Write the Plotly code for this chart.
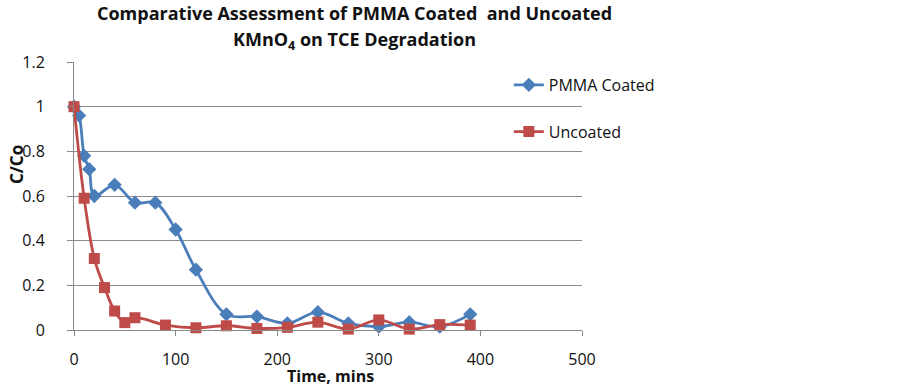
import plotly.graph_objects as go

# Data
coated_time = [0, 5, 10, 15, 20, 40, 60, 80, 100, 120, 150, 180, 210, 240, 270, 300, 330, 360, 390]
coated_ratio = [1.0, 0.96, 0.78, 0.72, 0.60, 0.65, 0.57, 0.57, 0.45, 0.27, 0.07, 0.06, 0.03, 0.08, 0.03, 0.015, 0.035, 0.015, 0.07]

uncoated_time = [0, 10, 20, 30, 40, 50, 60, 90, 120, 150, 180, 210, 240, 270, 300, 330, 360, 390]
uncoated_ratio = [1.0, 0.59, 0.32, 0.19, 0.085, 0.033, 0.055, 0.022, 0.01, 0.019, 0.007, 0.012, 0.035, 0.004, 0.045, 0.004, 0.024, 0.022]

x_ticks = [0, 100, 200, 300, 400, 500]
y_ticks = [0, 0.2, 0.4, 0.6, 0.8, 1, 1.2]
y_tick_labels = ["0", "0.2", "0.4", "0.6", "0.8", "1", "1.2"]

BLUE = "#4A7EBB"
RED = "#BE4B48"
FONT = "Open Sans"
TXT = "#111111"

fig = go.Figure()
fig.add_trace(go.Scatter(
    x=coated_time, y=coated_ratio, name="PMMA Coated", mode="lines+markers",
    line=dict(color=BLUE, width=2.8, shape="spline", smoothing=1.0),
    marker=dict(symbol="diamond", size=11, color=BLUE),
    cliponaxis=False, legendgroup="a",
))
fig.add_trace(go.Scatter(
    x=uncoated_time, y=uncoated_ratio, name="Uncoated", mode="lines+markers",
    line=dict(color=RED, width=2.8, shape="spline", smoothing=1.0),
    marker=dict(symbol="square", size=11, color=RED),
    cliponaxis=False, legendgroup="b",
))

fig.update_layout(
    width=899, height=387,
    margin=dict(l=74, r=317, t=62, b=57, autoexpand=False),
    paper_bgcolor="white", plot_bgcolor="white",
    font=dict(family=FONT, size=16, color=TXT),
    showlegend=True,
    legend=dict(
        x=0.856, xanchor="left", y=0.978, yanchor="top",
        font=dict(family=FONT, size=16, color=TXT),
        tracegroupgap=23, traceorder="grouped",
        bgcolor="rgba(0,0,0,0)",
    ),
    xaxis=dict(
        range=[0, 500], tickvals=x_ticks, ticks="outside", ticklen=5,
        tickcolor="#888", showline=True, linecolor="#888", linewidth=1,
        showgrid=False, zeroline=False, automargin=False,
        ticklabelstandoff=10,
        tickfont=dict(family=FONT, size=16, color=TXT),
    ),
    yaxis=dict(
        range=[0, 1.2], tickvals=y_ticks, ticktext=y_tick_labels,
        ticks="outside", ticklen=6, tickcolor="#888",
        showline=True, linecolor="#888", linewidth=1, automargin=False,
        showgrid=True, gridcolor="#8c8c8c", gridwidth=1, zeroline=False,
        ticklabelstandoff=19,
        tickfont=dict(family=FONT, size=16, color=TXT),
    ),
)

# Two-line chart title
fig.add_annotation(
    text="<b>Comparative Assessment of PMMA Coated  and Uncoated</b>",
    xref="paper", yref="paper", x=0.553, y=1.183, xanchor="center", yanchor="middle",
    showarrow=False, font=dict(family=FONT, size=18, color=TXT),
)
fig.add_annotation(
    text="<b>KMnO<sub>4</sub> on TCE Degradation</b>",
    xref="paper", yref="paper", x=0.553, y=1.08, xanchor="center", yanchor="middle",
    showarrow=False, font=dict(family=FONT, size=18, color=TXT),
)
# Axis titles
fig.add_annotation(
    text="<b>Time, mins</b>", xref="paper", yref="paper",
    x=0.505, y=-0.172, xanchor="center", yanchor="middle", showarrow=False,
    font=dict(family=FONT, size=16, color=TXT),
)
fig.add_annotation(
    text="<b>C/Co</b>", xref="paper", yref="paper", textangle=-90,
    x=-0.112, y=0.616, xanchor="center", yanchor="middle", showarrow=False,
    font=dict(family=FONT, size=17, color=TXT),
)

fig.write_html(
    "out.html",
    config={"displayModeBar": False},
    post_script="document.body.style.margin='0px'; document.body.style.overflow='hidden';",
)
